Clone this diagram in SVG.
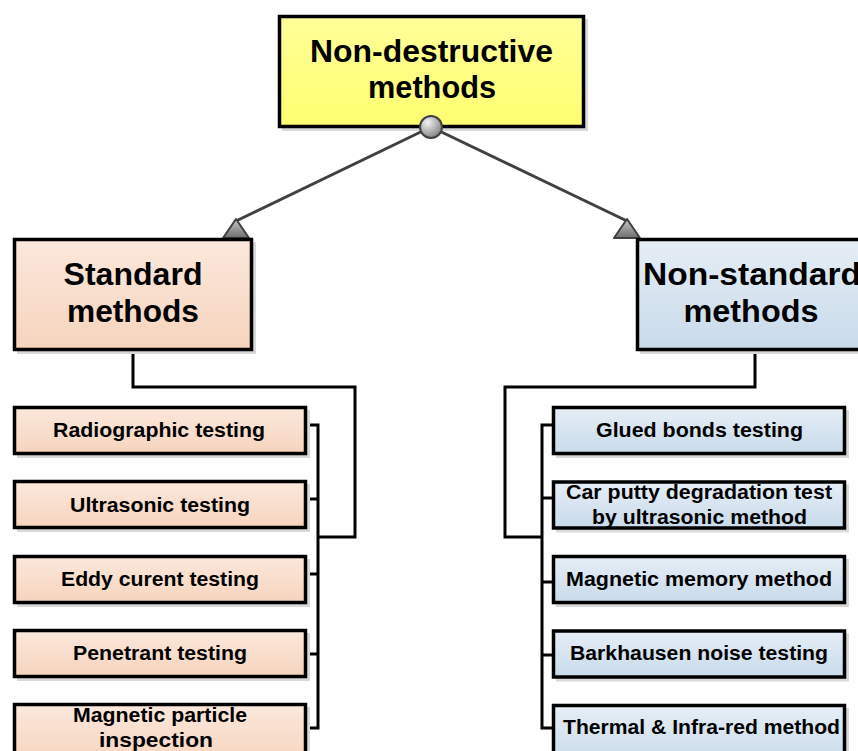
<svg xmlns="http://www.w3.org/2000/svg" width="858" height="751" viewBox="0 0 858 751">
<defs>
<linearGradient id="gY" x1="0" y1="0" x2="0" y2="1"><stop offset="0" stop-color="#ffff99"/><stop offset="1" stop-color="#ffff70"/></linearGradient>
<linearGradient id="gP" x1="0" y1="0" x2="0" y2="1"><stop offset="0" stop-color="#fbe8dc"/><stop offset="1" stop-color="#f6d4bd"/></linearGradient>
<linearGradient id="gB" x1="0" y1="0" x2="0" y2="1"><stop offset="0" stop-color="#e6eef6"/><stop offset="1" stop-color="#c8daea"/></linearGradient>
<radialGradient id="gC" cx="0.35" cy="0.3" r="0.8"><stop offset="0" stop-color="#f2f2f2"/><stop offset="1" stop-color="#7a7a7a"/></radialGradient>
<linearGradient id="gT" x1="0" y1="0" x2="0" y2="1"><stop offset="0" stop-color="#c8c8c8"/><stop offset="1" stop-color="#6e6e6e"/></linearGradient>
</defs>
<style>
.box{stroke:#000;stroke-width:3.5}
.sh{fill:#d9d9d9}
.t{font-family:"Liberation Sans",Arial,sans-serif;font-weight:bold;fill:#000;text-anchor:middle}
.big{font-size:31px}
.sm{font-size:20px}
.ln{fill:none;stroke:#000;stroke-width:3}
.dg{fill:none;stroke:#404040;stroke-width:3}
.tri{fill:url(#gT);stroke:#404040;stroke-width:2;stroke-linejoin:round}
</style>
<rect width="858" height="751" fill="#fff"/>
<g id="connectors">
<line class="dg" x1="431" y1="127" x2="236" y2="221"/>
<line class="dg" x1="431" y1="127" x2="627" y2="221"/>
<polygon class="tri" points="236,219 223,238 249,238"/>
<polygon class="tri" points="627,219 614,238 640,238"/>
<polyline class="ln" points="133,351 133,387 355,387 355,537 318,537"/>
<polyline class="ln" points="307,425 318,425 318,728 307,728"/>
<line class="ln" x1="307" y1="499" x2="318" y2="499"/>
<line class="ln" x1="307" y1="574" x2="318" y2="574"/>
<line class="ln" x1="307" y1="654" x2="318" y2="654"/>
<polyline class="ln" points="755,351 755,387 505,387 505,537 542,537"/>
<polyline class="ln" points="552,425 542,425 542,728 552,728"/>
<line class="ln" x1="542" y1="498" x2="552" y2="498"/>
<line class="ln" x1="542" y1="582" x2="552" y2="582"/>
<line class="ln" x1="542" y1="655" x2="552" y2="655"/>
</g>
<g id="root">
<rect class="sh" x="282" y="19" width="306" height="112"/>
<rect class="box" x="279.5" y="16.5" width="304" height="110" fill="url(#gY)"/>
<text class="t big" x="431.5" y="62" textLength="243" lengthAdjust="spacingAndGlyphs">Non-destructive</text>
<text class="t big" x="432" y="98" textLength="128" lengthAdjust="spacingAndGlyphs">methods</text>
<circle cx="431" cy="127" r="11" fill="url(#gC)" stroke="#404040" stroke-width="2"/>
</g>
<g id="standard">
<rect class="sh" x="17" y="242" width="239" height="112"/>
<rect class="box" x="14.5" y="239.5" width="237" height="110" fill="url(#gP)"/>
<text class="t big" x="133" y="285" textLength="139" lengthAdjust="spacingAndGlyphs">Standard</text>
<text class="t big" x="133" y="322" textLength="132" lengthAdjust="spacingAndGlyphs">methods</text>
</g>
<g id="nonstandard">
<rect class="sh" x="640" y="242" width="239" height="112"/>
<rect class="box" x="637.5" y="239.5" width="237" height="110" fill="url(#gB)"/>
<text class="t big" x="752" y="285" textLength="218" lengthAdjust="spacingAndGlyphs">Non-standard</text>
<text class="t big" x="751" y="322" textLength="135" lengthAdjust="spacingAndGlyphs">methods</text>
</g>
<g id="radiographic">
<rect class="sh" x="17" y="410" width="293" height="48"/>
<rect class="box" x="14.5" y="407.5" width="291" height="46" fill="url(#gP)"/>
<text class="t sm" x="159" y="437" textLength="212" lengthAdjust="spacingAndGlyphs">Radiographic testing</text>
</g>
<g id="ultrasonic">
<rect class="sh" x="17" y="484" width="293" height="48"/>
<rect class="box" x="14.5" y="481.5" width="291" height="46" fill="url(#gP)"/>
<text class="t sm" x="160" y="512" textLength="180" lengthAdjust="spacingAndGlyphs">Ultrasonic testing</text>
</g>
<g id="eddy">
<rect class="sh" x="17" y="559" width="293" height="48"/>
<rect class="box" x="14.5" y="556.5" width="291" height="46" fill="url(#gP)"/>
<text class="t sm" x="160" y="586" textLength="198" lengthAdjust="spacingAndGlyphs">Eddy curent testing</text>
</g>
<g id="penetrant">
<rect class="sh" x="17" y="633" width="293" height="48"/>
<rect class="box" x="14.5" y="630.5" width="291" height="46" fill="url(#gP)"/>
<text class="t sm" x="160" y="660" textLength="174" lengthAdjust="spacingAndGlyphs">Penetrant testing</text>
</g>
<g id="magparticle">
<rect class="sh" x="17" y="707" width="293" height="60"/>
<rect class="box" x="14.5" y="704.5" width="291" height="60" fill="url(#gP)"/>
<text class="t sm" x="160" y="722" textLength="174" lengthAdjust="spacingAndGlyphs">Magnetic particle</text>
<text class="t sm" x="156" y="747" textLength="114" lengthAdjust="spacingAndGlyphs">inspection</text>
</g>
<g id="glued">
<rect class="sh" x="556" y="410" width="293" height="48"/>
<rect class="box" x="553.5" y="407.5" width="291" height="46" fill="url(#gB)"/>
<text class="t sm" x="699.5" y="437" textLength="207" lengthAdjust="spacingAndGlyphs">Glued bonds testing</text>
</g>
<g id="carputty">
<rect class="sh" x="556" y="484.5" width="293" height="48"/>
<rect class="box" x="553.5" y="482" width="291" height="46" fill="url(#gB)"/>
<text class="t sm" x="699" y="499" textLength="266" lengthAdjust="spacingAndGlyphs">Car putty degradation test</text>
<text class="t sm" x="699.5" y="524" textLength="215" lengthAdjust="spacingAndGlyphs">by ultrasonic method</text>
</g>
<g id="magmemory">
<rect class="sh" x="556" y="559" width="293" height="48"/>
<rect class="box" x="553.5" y="556.5" width="291" height="46" fill="url(#gB)"/>
<text class="t sm" x="699" y="586" textLength="266" lengthAdjust="spacingAndGlyphs">Magnetic memory method</text>
</g>
<g id="barkhausen">
<rect class="sh" x="556" y="633.5" width="293" height="48"/>
<rect class="box" x="553.5" y="631" width="291" height="46" fill="url(#gB)"/>
<text class="t sm" x="699" y="660" textLength="258" lengthAdjust="spacingAndGlyphs">Barkhausen noise testing</text>
</g>
<g id="thermal">
<rect class="sh" x="556" y="708" width="293" height="60"/>
<rect class="box" x="553.5" y="705.5" width="291" height="60" fill="url(#gB)"/>
<text class="t sm" x="701.5" y="734" textLength="277" lengthAdjust="spacingAndGlyphs">Thermal &amp; Infra-red method</text>
</g>
</svg>
